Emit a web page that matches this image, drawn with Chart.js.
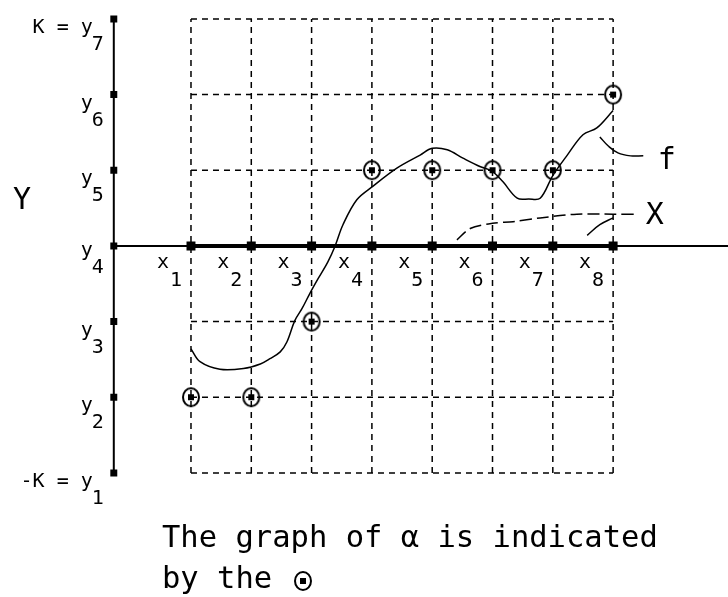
<!DOCTYPE html>
<html>
<head>
<meta charset="utf-8">
<script src="https://cdn.jsdelivr.net/npm/chart.js@4.4.1/dist/chart.umd.min.js"></script>
<style>
  html, body { margin: 0; padding: 0; background: #fff; overflow: hidden; }
  #wrap { width: 728px; height: 597px; }
</style>
</head>
<body>
<div id="wrap"><canvas id="graph"></canvas></div>
<script>
// grid positions x1..x8 and y1..y7 (y4 is the horizontal axis)
const xTicks = [1, 2, 3, 4, 5, 6, 7, 8];
const xTickLabels = ['1', '2', '3', '4', '5', '6', '7', '8'];
const yTicks = [-3, -2, -1, 0, 1, 2, 3];
const yTickLabels = [['-K = y', '1'], ['y', '2'], ['y', '3'], ['y', '4'], ['y', '5'], ['y', '6'], ['K = y', '7']];

// graph of alpha (circled dots), one value per x tick
const alphaY = [-2, -2, -1, 1, 1, 1, 1, 2];

// curve f
const fX = [1, 1.15, 1.48, 1.87, 2.15, 2.31, 2.48, 2.59, 2.72, 2.84, 2.97, 3.11, 3.27, 3.39, 3.52, 3.75, 4.02, 4.42, 4.8, 5.0, 5.25, 5.51, 5.79, 5.99, 6.17, 6.41, 6.6, 6.79, 7.0, 7.24, 7.5, 7.73, 8.0];
const fY = [-1.36, -1.53, -1.63, -1.62, -1.56, -1.49, -1.4, -1.27, -0.99, -0.83, -0.63, -0.43, -0.21, 0.0, 0.28, 0.61, 0.79, 1.03, 1.2, 1.29, 1.27, 1.16, 1.05, 0.99, 0.85, 0.63, 0.62, 0.63, 0.93, 1.2, 1.47, 1.56, 1.79];

// dashed curve X
const bigXX = [5.41, 5.63, 6.0, 6.34, 6.79, 7.4, 8.0, 8.41];
const bigXY = [0.08, 0.23, 0.3, 0.32, 0.37, 0.42, 0.42, 0.42];

// little leader curves to the labels
const leadFX = [7.78, 7.92, 8.08, 8.29, 8.5];
const leadFY = [1.44, 1.32, 1.23, 1.19, 1.19];
const leadXX = [7.57, 7.78, 8.0];
const leadXY = [0.14, 0.28, 0.37];

// name labels: text, x, y
const names = [['Y', -1.95, 0.59], ['f', 8.74, 1.12], ['X', 8.54, 0.39]];

const caption = ['The graph of \u03b1 is indicated', 'by the'];

// view window
const xMin = -2.167, xMax = 9.905, yMin = -4.64, yMax = 3.25;
const yAxisAt = -0.28;

const pts = (xs, ys) => xs.map((x, i) => ({ x, y: ys[i] }));

function circledDot() {
    const c = document.createElement('canvas');
    c.width = 22; c.height = 24;
    const g = c.getContext('2d');
    g.strokeStyle = '#000';
    g.lineWidth = 2;
    g.beginPath();
    g.ellipse(11, 12, 8, 9, 0, 0, Math.PI * 2);
    g.stroke();
    g.fillStyle = '#000';
    g.fillRect(8, 9, 6, 6);
    return c;
}
const marker = circledDot();

const line = (data, extra) => Object.assign({
    type: 'line', data, borderColor: '#000', borderWidth: 1.5,
    pointRadius: 0, fill: false, clip: false, tension: 0,
}, extra);

const datasets = [
    // dashed grid
    ...yTicks.filter(y => y !== 0).map(y => line([{ x: xTicks[0], y }, { x: xTicks[xTicks.length - 1], y }], { borderDash: [6, 5], order: 10 })),
    ...xTicks.map(x => line([{ x, y: yTicks[0] }, { x, y: yTicks[yTicks.length - 1] }], { borderDash: [6, 5], order: 10 })),
    // axes
    line([{ x: yAxisAt, y: 0 }, { x: xMax, y: 0 }], { borderWidth: 2, order: 5 }),
    line(xTicks.map(x => ({ x, y: 0 })), { borderWidth: 4, pointStyle: 'rect', pointRadius: 3.5, pointBackgroundColor: '#000', order: 5 }),
    line(yTicks.map(y => ({ x: yAxisAt, y })), { borderWidth: 2, pointStyle: 'rect', pointRadius: 3.5, pointBackgroundColor: '#000', order: 5 }),
    // curves
    line(pts(fX, fY), { tension: 0.35, order: 3 }),
    line(pts(bigXX, bigXY), { borderDash: [12, 5], tension: 0.3, order: 3 }),
    line(pts(leadFX, leadFY), { tension: 0.4, order: 3 }),
    line(pts(leadXX, leadXY), { tension: 0.4, order: 3 }),
    // alpha
    { type: 'scatter', data: pts(xTicks, alphaY), pointStyle: marker, pointRadius: 10, clip: false, order: 1 },
];

const labels = {
    id: 'labels',
    afterDraw(chart) {
        const { ctx, scales: { x, y } } = chart;
        const ax = x.getPixelForValue(yAxisAt);
        const ay = y.getPixelForValue(0);
        ctx.save();
        ctx.fillStyle = '#000';
        ctx.textBaseline = 'alphabetic';
        ctx.font = '20px "DejaVu Sans Mono"';
        // x tick labels
        xTicks.forEach((v, i) => {
            const px = x.getPixelForValue(v);
            ctx.textAlign = 'left';
            ctx.fillText('x', px - 34, ay + 22);
            ctx.fillText(xTickLabels[i], px - 21, ay + 40);
        });
        // y tick labels
        yTicks.forEach((v, i) => {
            const py = y.getPixelForValue(v);
            const drop = v === 0 ? 10 : 14;
            ctx.textAlign = 'right';
            ctx.fillText(yTickLabels[i][0], ax - 21, py + drop);
            ctx.textAlign = 'left';
            ctx.fillText(yTickLabels[i][1], ax - 22, py + drop + 17);
        });
        // names
        ctx.font = '30px "DejaVu Sans Mono"';
        ctx.textAlign = 'left';
        ctx.textBaseline = 'middle';
        names.forEach(([t, vx, vy]) => ctx.fillText(t, x.getPixelForValue(vx), y.getPixelForValue(vy)));
        // caption
        ctx.textBaseline = 'alphabetic';
        ctx.font = '30.5px "DejaVu Sans Mono"';
        ctx.fillText(caption[0], 162, 547);
        ctx.fillText(caption[1], 162, 588);
        ctx.drawImage(marker, 292, 569);
        ctx.restore();
    },
};

new Chart(document.getElementById('graph'), {
    type: 'line',
    data: { datasets },
    options: {
        responsive: true,
        maintainAspectRatio: false,
        animation: false,
        events: [],
        layout: { padding: 0, autoPadding: false },
        plugins: { legend: { display: false }, tooltip: { enabled: false } },
        scales: {
            x: { type: 'linear', min: xMin, max: xMax, display: false },
            y: { type: 'linear', min: yMin, max: yMax, display: false },
        },
    },
    plugins: [labels],
});
</script>
</body>
</html>
